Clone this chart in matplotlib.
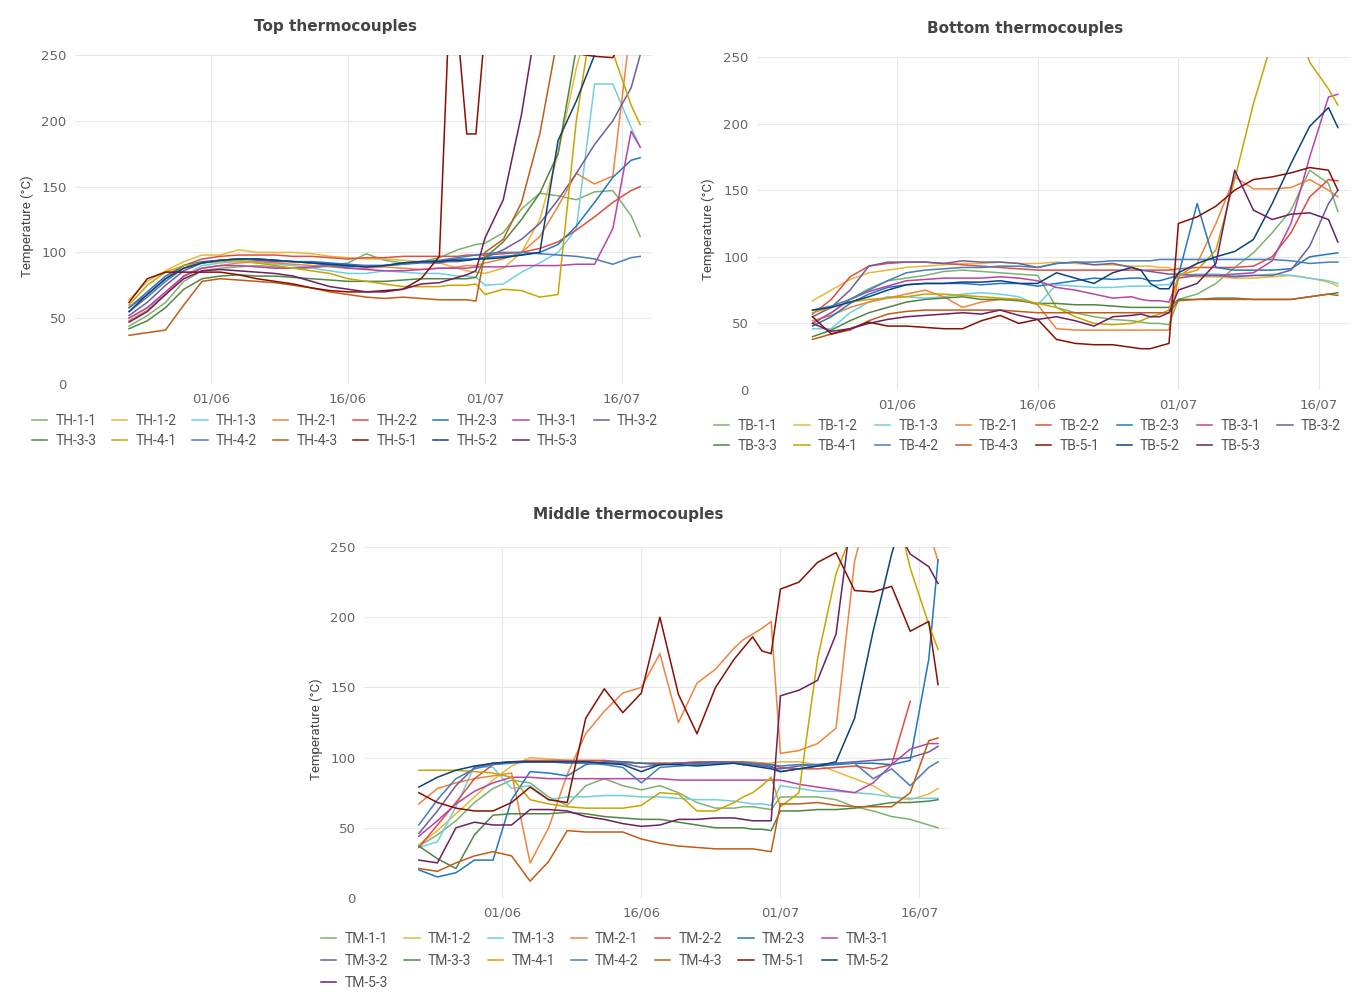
import numpy as np
import matplotlib
matplotlib.use("Agg")
import matplotlib.pyplot as plt
import matplotlib.dates as mdates

# sample dates (days relative to 01/06)
day_offsets = [-9, -7, -5, -3, -1, 1, 3, 5, 7, 9, 11, 13, 15, 17, 19, 21, 23, 25, 26, 27, 28, 29,
               30, 32, 34, 36, 38, 40, 42, 44, 46, 47]
dates = np.datetime64("2021-06-01") + np.array(day_offsets).astype("timedelta64[D]")

# grafana classic palette
colors = ["#7EB26D", "#EAB839", "#6ED0E0", "#EF843C", "#E24D42", "#1F78C1", "#BA43A9", "#705DA0",
          "#508642", "#CCA300", "#447EBC", "#C15C17", "#890F02", "#0A437C", "#6D1F62"]

# ---- top thermocouples
th_1_1 = [44, 52, 62, 78, 86, 88, 89, 90, 89, 88, 88, 90, 92, 99, 94, 92, 93, 96, 99, 102, 104, 106, 107, 115, 133, 145, 143, 140, 146, 147, 128, 112]
th_1_2 = [64, 78, 86, 93, 98, 98, 102, 100, 100, 100, 99, 97, 96, 95, 95, 94, 93, 92, 90, 88, 86, 85, 84, 88, 100, 125, 175, 240, 290, 290, 290, 290]
th_1_3 = [50, 58, 68, 82, 90, 92, 93, 92, 91, 90, 88, 86, 84, 84, 86, 85, 84, 84, 83, 82, 82, 81, 75, 76, 85, 92, 100, 118, 228, 228, 195, 180]
th_2_1 = [48, 56, 68, 82, 88, 90, 92, 93, 92, 91, 90, 89, 88, 88, 89, 88, 87, 88, 88, 89, 90, 90, 92, 95, 100, 112, 135, 160, 152, 158, 275, 275]
th_2_2 = [58, 68, 80, 90, 95, 97, 98, 98, 98, 97, 97, 96, 95, 96, 96, 97, 97, 97, 97, 97, 98, 98, 98, 99, 100, 103, 108, 117, 127, 138, 147, 150]
th_2_3 = [58, 70, 82, 90, 93, 94, 95, 95, 94, 93, 93, 92, 91, 90, 90, 92, 93, 93, 94, 95, 95, 95, 96, 97, 98, 100, 106, 120, 138, 157, 170, 172]
th_3_1 = [50, 58, 70, 82, 88, 90, 90, 89, 88, 88, 89, 90, 88, 87, 86, 86, 87, 88, 88, 88, 88, 89, 89, 89, 90, 90, 90, 91, 91, 118, 192, 180]
th_3_2 = [52, 62, 75, 86, 92, 94, 95, 94, 93, 93, 92, 91, 90, 89, 90, 91, 92, 92, 93, 93, 94, 95, 96, 102, 110, 122, 140, 160, 182, 200, 225, 250]
th_3_3 = [42, 48, 58, 72, 80, 82, 83, 82, 82, 81, 80, 79, 78, 78, 78, 79, 80, 80, 80, 80, 80, 81, 96, 108, 125, 145, 175, 255, 290, 290, 290, 290]
th_4_1 = [60, 75, 85, 90, 92, 93, 94, 92, 90, 88, 86, 84, 80, 78, 76, 74, 74, 74, 75, 75, 75, 76, 68, 72, 71, 66, 68, 200, 290, 252, 212, 197]
th_4_2 = [55, 66, 78, 88, 92, 94, 95, 95, 94, 93, 92, 90, 89, 90, 90, 91, 93, 94, 95, 96, 97, 98, 99, 100, 100, 99, 98, 97, 95, 91, 96, 97]
th_4_3 = [37, 39, 41, 60, 78, 80, 79, 78, 77, 75, 73, 70, 68, 66, 65, 66, 65, 64, 64, 64, 64, 63, 100, 110, 138, 190, 265, 290, 290, 290, 290, 290]
th_5_1 = [62, 80, 85, 85, 85, 85, 83, 80, 78, 76, 73, 71, 70, 70, 71, 72, 80, 97, 270, 270, 190, 190, 270, 270, 270, 270, 270, 251, 249, 248, 275, 275]
th_5_2 = [55, 68, 80, 88, 92, 94, 95, 95, 94, 93, 92, 91, 90, 89, 90, 92, 93, 93, 94, 94, 94, 95, 95, 96, 98, 100, 185, 215, 250, 280, 280, 280]
th_5_3 = [47, 55, 68, 80, 86, 87, 86, 85, 84, 82, 78, 74, 72, 70, 70, 72, 76, 77, 79, 81, 83, 86, 111, 140, 205, 290, 290, 290, 290, 290, 290, 290]

# ---- bottom thermocouples
tb_1_1 = [50, 58, 68, 76, 82, 84, 86, 89, 90, 89, 88, 87, 86, 62, 58, 55, 53, 52, 51, 50, 50, 49, 68, 72, 80, 92, 103, 118, 135, 165, 155, 134]
tb_1_2 = [67, 75, 83, 88, 90, 92, 93, 94, 95, 95, 96, 95, 95, 96, 95, 94, 94, 93, 93, 93, 92, 92, 86, 85, 85, 84, 84, 85, 86, 84, 81, 78]
tb_1_3 = [46, 46, 58, 66, 70, 70, 69, 70, 72, 73, 72, 70, 64, 79, 78, 77, 77, 78, 78, 78, 79, 79, 86, 87, 87, 86, 86, 87, 86, 84, 82, 80]
tb_2_1 = [52, 56, 62, 66, 69, 72, 75, 70, 62, 66, 68, 68, 64, 46, 45, 45, 45, 45, 45, 45, 45, 45, 85, 95, 125, 160, 151, 151, 152, 158, 150, 145]
tb_2_2 = [57, 68, 85, 93, 95, 96, 96, 95, 94, 93, 92, 91, 90, 90, 90, 90, 90, 90, 90, 90, 90, 90, 91, 92, 92, 92, 93, 100, 118, 145, 158, 157]
tb_2_3 = [48, 55, 65, 72, 77, 79, 80, 80, 80, 79, 80, 80, 78, 80, 82, 84, 83, 84, 84, 82, 82, 84, 86, 140, 92, 90, 90, 90, 91, 100, 102, 103]
tb_3_1 = [50, 58, 68, 74, 78, 82, 83, 84, 84, 84, 85, 84, 82, 77, 75, 72, 69, 70, 68, 67, 67, 66, 84, 86, 86, 87, 88, 97, 125, 175, 220, 222]
tb_3_2 = [55, 62, 75, 93, 96, 96, 96, 95, 97, 96, 96, 95, 92, 95, 96, 94, 95, 92, 90, 89, 88, 87, 87, 86, 86, 85, 86, 86, 90, 108, 140, 150]
tb_3_3 = [40, 45, 52, 58, 62, 66, 68, 69, 70, 68, 68, 67, 65, 65, 64, 64, 63, 62, 62, 62, 62, 62, 68, 68, 69, 69, 68, 68, 68, 70, 72, 73]
tb_4_1 = [58, 62, 66, 68, 69, 70, 72, 72, 71, 70, 69, 68, 65, 62, 55, 50, 49, 50, 52, 55, 57, 60, 86, 90, 105, 158, 215, 262, 290, 246, 226, 214]
tb_4_2 = [60, 63, 68, 75, 82, 88, 90, 91, 92, 92, 93, 93, 92, 95, 96, 96, 97, 97, 97, 97, 98, 98, 98, 98, 98, 98, 98, 98, 97, 95, 96, 96]
tb_4_3 = [38, 42, 45, 52, 57, 59, 60, 60, 60, 60, 60, 59, 58, 58, 58, 58, 58, 58, 58, 58, 58, 58, 67, 68, 68, 68, 68, 68, 68, 70, 72, 71]
tb_5_1 = [55, 42, 46, 51, 48, 48, 47, 46, 46, 52, 56, 50, 53, 38, 35, 34, 34, 32, 31, 31, 33, 35, 125, 130, 138, 150, 158, 160, 163, 167, 165, 150]
tb_5_2 = [60, 62, 66, 70, 75, 79, 80, 80, 81, 81, 82, 80, 80, 88, 84, 80, 88, 92, 90, 80, 76, 76, 88, 95, 100, 104, 113, 140, 170, 198, 212, 197]
tb_5_3 = [50, 44, 46, 50, 53, 55, 56, 57, 58, 57, 60, 56, 53, 55, 52, 48, 55, 56, 57, 55, 55, 58, 75, 80, 95, 165, 135, 128, 132, 133, 128, 111]

# ---- middle thermocouples
tm_1_1 = [37, 45, 55, 68, 78, 84, 82, 72, 66, 80, 85, 80, 77, 80, 75, 68, 64, 64, 65, 65, 64, 63, 72, 72, 72, 70, 65, 62, 58, 56, 52, 50]
tm_1_2 = [38, 48, 60, 72, 84, 94, 100, 99, 98, 97, 97, 96, 96, 96, 96, 97, 97, 97, 97, 97, 96, 96, 97, 97, 95, 90, 85, 80, 72, 70, 74, 78]
tm_1_3 = [36, 40, 65, 94, 93, 78, 80, 70, 72, 72, 73, 73, 72, 72, 71, 70, 70, 69, 68, 67, 67, 66, 80, 78, 76, 76, 75, 74, 72, 71, 71, 71]
tm_2_1 = [67, 78, 82, 85, 87, 89, 25, 50, 88, 117, 133, 146, 150, 174, 125, 153, 163, 178, 184, 188, 192, 197, 103, 105, 110, 121, 240, 290, 290, 290, 262, 240]
tm_2_2 = [36, 52, 68, 85, 95, 97, 98, 98, 98, 98, 98, 97, 96, 96, 96, 97, 97, 97, 97, 96, 96, 95, 93, 92, 92, 93, 94, 92, 95, 140, np.nan, np.nan]
tm_2_3 = [20, 15, 18, 27, 27, 70, 90, 89, 87, 95, 97, 97, 96, 95, 96, 96, 96, 96, 95, 95, 95, 94, 90, 92, 94, 95, 96, 96, 95, 98, 170, 241]
tm_3_1 = [44, 55, 67, 76, 82, 86, 86, 85, 85, 85, 85, 85, 85, 85, 84, 84, 84, 84, 84, 84, 84, 84, 84, 81, 79, 77, 75, 82, 95, 106, 110, 110]
tm_3_2 = [46, 62, 80, 93, 96, 97, 97, 97, 97, 97, 96, 96, 93, 95, 96, 96, 97, 96, 96, 95, 94, 93, 92, 94, 95, 96, 97, 98, 99, 100, 104, 108]
tm_3_3 = [37, 28, 21, 45, 59, 60, 60, 60, 61, 60, 58, 57, 56, 56, 54, 52, 50, 50, 50, 49, 49, 48, 62, 62, 63, 63, 64, 66, 68, 68, 69, 70]
tm_4_1 = [91, 91, 91, 90, 89, 86, 70, 67, 65, 64, 64, 64, 66, 75, 74, 62, 62, 68, 72, 75, 80, 86, 65, 75, 170, 231, 265, 290, 290, 235, 195, 177]
tm_4_2 = [52, 70, 85, 92, 95, 96, 97, 97, 96, 96, 95, 93, 82, 93, 94, 95, 96, 96, 96, 96, 95, 95, 94, 95, 95, 96, 96, 85, 92, 80, 93, 97]
tm_4_3 = [21, 19, 25, 30, 33, 30, 12, 26, 48, 47, 47, 47, 42, 39, 37, 36, 35, 35, 35, 35, 34, 33, 67, 67, 68, 66, 65, 65, 65, 75, 112, 114]
tm_5_1 = [75, 68, 64, 62, 62, 68, 79, 70, 68, 128, 149, 132, 146, 200, 145, 117, 150, 170, 178, 186, 176, 174, 220, 225, 239, 246, 219, 218, 222, 190, 197, 152]
tm_5_2 = [79, 86, 91, 94, 96, 97, 97, 97, 97, 97, 96, 95, 90, 95, 95, 94, 95, 96, 95, 94, 93, 92, 90, 92, 94, 97, 128, 190, 245, 290, 290, 290]
tm_5_3 = [27, 25, 50, 54, 52, 52, 63, 63, 62, 58, 56, 53, 51, 52, 56, 56, 57, 57, 56, 55, 55, 55, 144, 148, 155, 188, 290, 290, 270, 245, 236, 224]

codes = ["1-1", "1-2", "1-3", "2-1", "2-2", "2-3", "3-1", "3-2", "3-3", "4-1", "4-2", "4-3", "5-1", "5-2", "5-3"]
top_series = [th_1_1, th_1_2, th_1_3, th_2_1, th_2_2, th_2_3, th_3_1, th_3_2, th_3_3, th_4_1, th_4_2, th_4_3, th_5_1, th_5_2, th_5_3]
bot_series = [tb_1_1, tb_1_2, tb_1_3, tb_2_1, tb_2_2, tb_2_3, tb_3_1, tb_3_2, tb_3_3, tb_4_1, tb_4_2, tb_4_3, tb_5_1, tb_5_2, tb_5_3]
mid_series = [tm_1_1, tm_1_2, tm_1_3, tm_2_1, tm_2_2, tm_2_3, tm_3_1, tm_3_2, tm_3_3, tm_4_1, tm_4_2, tm_4_3, tm_5_1, tm_5_2, tm_5_3]

tick_dates = np.array(["2021-06-01", "2021-06-16", "2021-07-01", "2021-07-16"], dtype="datetime64[D]")
x_lo = np.datetime64("2021-05-17T02")
x_hi = np.datetime64("2021-07-19T07")

W, H = 1352, 992
fig = plt.figure(figsize=(W / 100, H / 100), dpi=100)


def panel(box, series, prefix, title, title_xy, ylab_xy, leg_xy, ncol, lspace, cspace):
    l, t, r, b = box
    ax = fig.add_axes([l / W, 1 - b / H, (r - l) / W, (b - t) / H])
    lines = []
    for vals, c, code in zip(series, colors, codes):
        ln, = ax.plot(dates, vals, color=c, lw=1.1, label=prefix + "-" + code)
        lines.append(ln)
    ax.set_ylim(0, 250)
    ax.set_xlim(x_lo, x_hi)
    ax.set_yticks([0, 50, 100, 150, 200, 250])
    ax.set_xticks(tick_dates)
    ax.xaxis.set_major_formatter(mdates.DateFormatter("%d/%m"))
    ax.grid(color="#e8e8e8", lw=0.8)
    ax.set_axisbelow(True)
    for s in ax.spines.values():
        s.set_visible(False)
    ax.tick_params(length=0, colors="#666666", labelsize=9.5, pad=6)
    fig.text(title_xy[0] / W, 1 - title_xy[1] / H, title, ha="center", va="center",
             fontsize=11, fontweight="bold", color="#444444")
    fig.text(ylab_xy[0] / W, 1 - ylab_xy[1] / H, "Temperature (°C)", rotation=90,
             ha="center", va="center", fontsize=9.5, color="#444444",
             family=["Liberation Sans Narrow", "Roboto"])
    # legend reads row by row, matplotlib fills column by column
    n = len(lines)
    order = [r * ncol + c for c in range(ncol) for r in range(n) if r * ncol + c < n]
    ax.legend([lines[i] for i in order], [lines[i].get_label() for i in order],
              loc="upper left", bbox_to_anchor=(leg_xy[0] / W, 1 - leg_xy[1] / H),
              bbox_transform=fig.transFigure, ncol=ncol, frameon=False,
              prop={"family": "Roboto", "size": 10}, labelcolor="#555555",
              handlelength=1.1, handletextpad=0.6, columnspacing=cspace,
              labelspacing=lspace, borderpad=0, borderaxespad=0)
    return ax


panel((75, 55, 652, 384), top_series, "TH", "Top thermocouples", (335, 27), (27, 226), (32, 414), 8, 0.42, 1.12)
panel((757, 57, 1350, 390), bot_series, "TB", "Bottom thermocouples", (1025, 28), (708, 229), (714, 419), 8, 0.42, 1.22)
panel((364, 547, 950, 898), mid_series, "TM", "Middle thermocouples", (628, 514), (316, 729), (321, 932), 7, 0.56, 1.18)

fig.savefig("out.png", dpi=100)
